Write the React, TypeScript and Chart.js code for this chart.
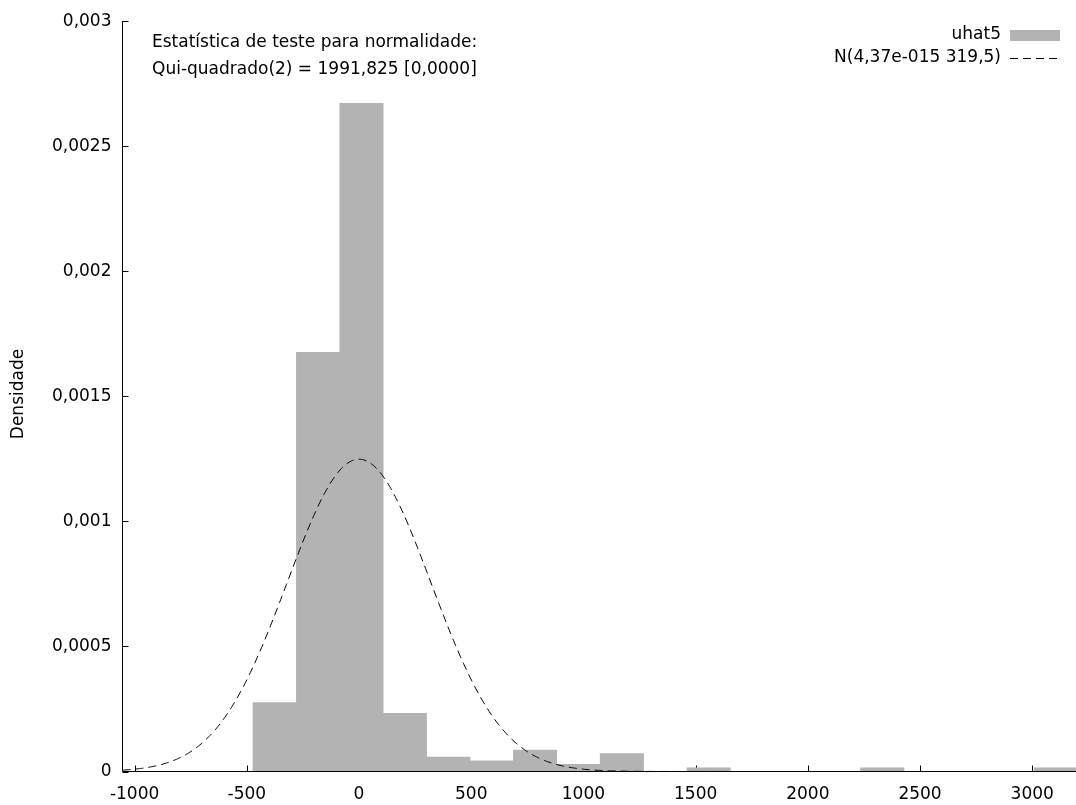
import React, { useEffect, useRef } from 'react';
import { Chart, registerables } from 'chart.js';

Chart.register(...registerables);

// ---- data ----
const BIN_CENTERS = [-375.9, -182.5, 10.9, 204.3, 397.7, 591.1, 784.5, 977.9, 1171.3, 1364.7, 1558.1, 1751.5, 1944.9, 2138.3, 2331.7, 2525.1, 2718.5, 2911.9, 3105.3];
const DENSITY = [0.000276, 0.001676, 0.002672, 0.000233, 0.0000572, 0.0000429, 0.0000858, 0.0000286, 0.0000715, 0, 0.0000143, 0, 0, 0, 0.0000143, 0, 0, 0, 0.0000143];
const X_TICKS = [-1000, -500, 0, 500, 1000, 1500, 2000, 2500, 3000];
const Y_TICKS = [0, 0.0005, 0.001, 0.0015, 0.002, 0.0025, 0.003];
const NORMAL_MEAN = 4.37e-15;
const NORMAL_SD = 319.5;
const X_MIN = -1054;
const X_MAX = 3195;
const Y_MAX = 0.003;
const SERIES_LABEL = 'uhat5';
const CURVE_LABEL = 'N(4,37e-015 319,5)';
const TEST_LINES = ['Estatística de teste para normalidade:', 'Qui-quadrado(2) = 1991,825 [0,0000]'];
const Y_TITLE = 'Densidade';

const BAR_COLOR = '#b3b3b3';
const FONT_FAMILY = '"DejaVu Sans", Verdana, sans-serif';
const FONT_SIZE = 17;
const DASH = [8, 5];

function normalCurve() {
  const pts: { x: number; y: number }[] = [];
  const c = 1 / (NORMAL_SD * Math.sqrt(2 * Math.PI));
  for (let x = X_MIN; x <= X_MAX; x += 5) {
    const z = (x - NORMAL_MEAN) / NORMAL_SD;
    pts.push({ x, y: c * Math.exp(-0.5 * z * z) });
  }
  return pts;
}

const overlay = {
  id: 'overlay',
  beforeDatasetsDraw(chart: any) {
    const { ctx, chartArea, scales } = chart;
    ctx.save();
    ctx.strokeStyle = '#000';
    ctx.lineWidth = 1;
    X_TICKS.forEach((v) => {
      const px = Math.round(scales.x.getPixelForValue(v)) + 0.5;
      ctx.beginPath();
      ctx.moveTo(px, chartArea.bottom);
      ctx.lineTo(px, chartArea.bottom - 6);
      ctx.stroke();
    });
    Y_TICKS.forEach((v) => {
      const py = Math.round(scales.y.getPixelForValue(v)) + 0.5;
      ctx.beginPath();
      ctx.moveTo(chartArea.left, py);
      ctx.lineTo(chartArea.left + 6, py);
      ctx.stroke();
    });
    ctx.restore();
  },
  afterDatasetsDraw(chart: any) {
    const { ctx, chartArea } = chart;
    ctx.save();
    ctx.strokeStyle = '#000';
    ctx.lineWidth = 1;
    ctx.beginPath();
    ctx.moveTo(chartArea.left, chartArea.top);
    ctx.lineTo(chartArea.left, chartArea.bottom);
    ctx.lineTo(chartArea.right, chartArea.bottom);
    ctx.stroke();

    ctx.fillStyle = '#000';
    ctx.font = `${FONT_SIZE}px ${FONT_FAMILY}`;
    ctx.textBaseline = 'middle';
    ctx.textAlign = 'left';
    ctx.fillText(TEST_LINES[0], 152, 43);
    ctx.fillText(TEST_LINES[1], 152, 70);

    ctx.textAlign = 'right';
    ctx.fillText(SERIES_LABEL, 1001, 35);
    ctx.fillText(CURVE_LABEL, 1001, 58);
    ctx.fillStyle = BAR_COLOR;
    ctx.fillRect(1010, 30, 50, 11);
    ctx.setLineDash(DASH);
    ctx.beginPath();
    ctx.moveTo(1010, 58.5);
    ctx.lineTo(1060, 58.5);
    ctx.stroke();
    ctx.setLineDash([]);

    ctx.fillStyle = '#000';
    ctx.translate(19, 394);
    ctx.rotate(-Math.PI / 2);
    ctx.textAlign = 'center';
    ctx.fillText(Y_TITLE, 0, 0);
    ctx.restore();
  },
};

export default function App() {
  const ref = useRef<HTMLCanvasElement>(null);
  useEffect(() => {
    document.body.style.margin = '0';
    if (!ref.current) return;
    Chart.defaults.font.family = FONT_FAMILY;
    Chart.defaults.font.size = FONT_SIZE;
    Chart.defaults.color = '#000';
    const chart = new Chart(ref.current, {
      type: 'bar',
      data: {
        datasets: [
          {
            type: 'line',
            label: CURVE_LABEL,
            data: normalCurve(),
            borderColor: '#000',
            borderWidth: 1,
            borderDash: DASH,
            pointRadius: 0,
            fill: false,
            tension: 0,
            order: 0,
          } as any,
          {
            type: 'bar',
            label: SERIES_LABEL,
            data: BIN_CENTERS.map((x, i) => ({ x, y: DENSITY[i] })),
            backgroundColor: BAR_COLOR,
            borderWidth: 0,
            barPercentage: 1,
            categoryPercentage: 1,
            grouped: false,
            order: 1,
          } as any,
        ],
      },
      options: {
        responsive: false,
        animation: false,
        layout: { padding: { top: 16.5, right: 0, left: 0, bottom: 0 } },
        plugins: { legend: { display: false }, tooltip: { enabled: false } },
        scales: {
          x: {
            type: 'linear',
            min: X_MIN,
            max: X_MAX,
            offset: false,
            grid: { display: false, drawTicks: false },
            border: { display: false },
            afterBuildTicks: (scale: any) => {
              scale.ticks = X_TICKS.map((value) => ({ value }));
            },
            afterFit: (scale: any) => {
              scale.height = 33.5;
            },
            ticks: {
              padding: 13,
              maxRotation: 0,
              autoSkip: false,
              callback: (v: any) => String(v),
            },
          },
          y: {
            type: 'linear',
            min: 0,
            max: Y_MAX,
            grid: { display: false, drawTicks: false },
            border: { display: false },
            afterBuildTicks: (scale: any) => {
              scale.ticks = Y_TICKS.map((value) => ({ value }));
            },
            afterFit: (scale: any) => {
              scale.width = 122.5;
            },
            ticks: {
              padding: 11,
              callback: (v: any) => (v === 0 ? '0' : String(parseFloat(Number(v).toFixed(4))).replace('.', ',')),
            },
          },
        },
      },
      plugins: [overlay],
    });
    return () => chart.destroy();
  }, []);
  return (
    <div style={{ width: 1076, height: 805 }}>
      <canvas ref={ref} width={1076} height={805} style={{ display: 'block' }} />
    </div>
  );
}
